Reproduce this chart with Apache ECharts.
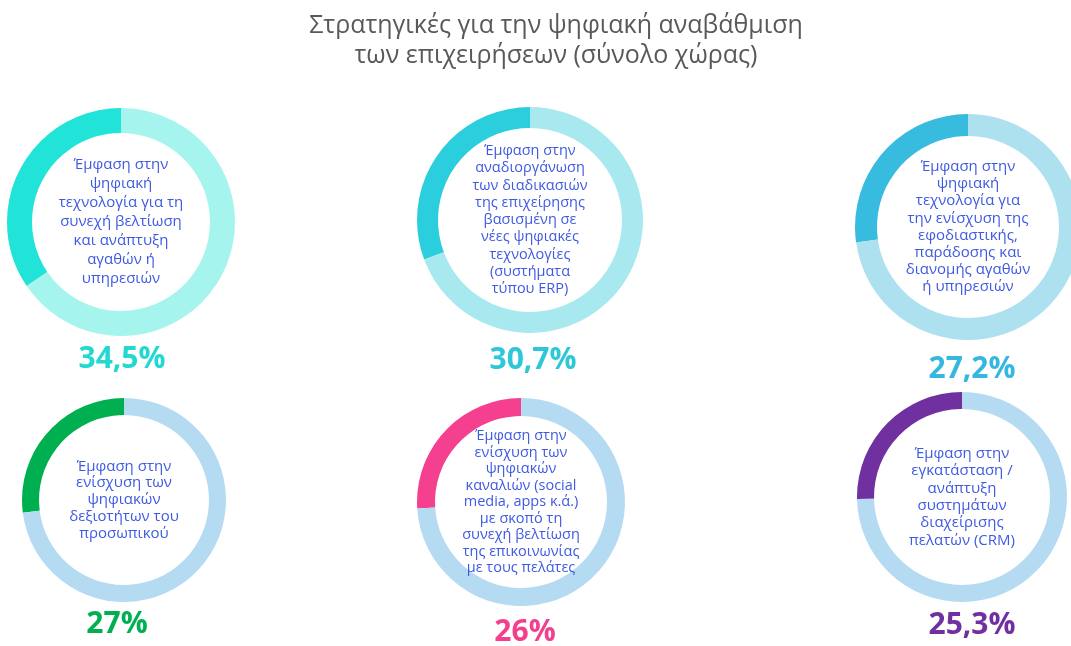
<!DOCTYPE html>
<html>
<head>
<meta charset="utf-8">
<script src="https://cdn.jsdelivr.net/npm/echarts@6/dist/echarts.min.js"></script>
<style>
  html, body { margin: 0; padding: 0; background: #fff; }
  #chart { width: 1071px; height: 646px; }
</style>
</head>
<body>
<div id="chart"></div>
<script>
// data
const strategies = [
  'Έμφαση στην\nψηφιακή\nτεχνολογία για τη\nσυνεχή βελτίωση\nκαι ανάπτυξη\nαγαθών ή\nυπηρεσιών',
  'Έμφαση στην\nαναδιοργάνωση\nτων διαδικασιών\nτης επιχείρησης\nβασισμένη σε\nνέες ψηφιακές\nτεχνολογίες\n(συστήματα\nτύπου ERP)',
  'Έμφαση στην\nψηφιακή\nτεχνολογία για\nτην ενίσχυση της\nεφοδιαστικής,\nπαράδοσης και\nδιανομής αγαθών\nή υπηρεσιών',
  'Έμφαση στην\nενίσχυση των\nψηφιακών\nδεξιοτήτων του\nπροσωπικού',
  'Έμφαση στην\nενίσχυση των\nψηφιακών\nκαναλιών (social\nmedia, apps κ.ά.)\nμε σκοπό τη\nσυνεχή βελτίωση\nτης επικοινωνίας\nμε τους πελάτες',
  'Έμφαση στην\nεγκατάσταση /\nανάπτυξη\nσυστημάτων\nδιαχείρισης\nπελατών (CRM)'
];
const shares = [34.5, 30.7, 27.2, 27, 26, 25.3];

// layout & colours
const layout = [
  { c: [121, 222], r: [89, 114], pct: [117, 359], fs: 15, lh: 19 },
  { c: [530, 220], r: [92, 113], pct: [528, 360], fs: 14.5, lh: 17.3 },
  { c: [968, 227], r: [91, 113], pct: [967, 369], fs: 15, lh: 17.2 },
  { c: [124, 500], r: [85, 102], pct: [112, 624], fs: 15, lh: 16.8 },
  { c: [521, 502], r: [86, 104], pct: [520, 632], fs: 14.5, lh: 16.5 },
  { c: [962, 497], r: [88, 105], pct: [967, 625], fs: 15, lh: 17.3 }
];
const mainColors = ['#21e3d7', '#2bcedd', '#37bbdf', '#00b050', '#f53f8f', '#7030a0'];
const restColors = ['#a5f4ee', '#a8e9ef', '#ade1ef', '#b5dbf2', '#b5dbf2', '#b5dbf2'];
const pctColors = ['#22d9d1', '#2cc8d9', '#36b7df', '#00b050', '#f43f8f', '#7030a0'];

const fmt = v => String(v).replace('.', ',') + '%';

const chart = echarts.init(document.getElementById('chart'));

const titles = [{
  text: 'Στρατηγικές για την ψηφιακή αναβάθμιση\nτων επιχειρήσεων (σύνολο χώρας)',
  left: 551,
  textAlign: 'center',
  top: 6,
  textStyle: {
    fontFamily: 'Open Sans',
    fontWeight: 'normal',
    fontSize: 25,
    lineHeight: 30,
    color: '#595959'
  }
}];

shares.forEach((v, i) => {
  titles.push({
    text: fmt(v),
    left: layout[i].pct[0],
    top: layout[i].pct[1] - 20,
    textAlign: 'center',
    textStyle: {
      fontFamily: 'Open Sans',
      fontWeight: 'bold',
      fontSize: 30,
      color: pctColors[i]
    }
  });
});

const series = shares.map((v, i) => ({
  type: 'pie',
  center: layout[i].c,
  radius: layout[i].r,
  startAngle: 90,
  clockwise: false,
  silent: true,
  avoidLabelOverlap: false,
  labelLine: { show: false },
  data: [
    {
      value: v,
      name: strategies[i],
      itemStyle: { color: mainColors[i] },
      label: {
        show: true,
        position: 'center',
        formatter: '{b}',
        fontFamily: 'Open Sans',
        fontSize: layout[i].fs,
        lineHeight: layout[i].lh,
        color: '#3f5ae2',
        align: 'center'
      }
    },
    {
      value: 100 - v,
      name: 'rest',
      itemStyle: { color: restColors[i] },
      label: { show: false }
    }
  ]
}));

chart.setOption({
  animation: false,
  title: titles,
  series: series
});
</script>
</body>
</html>
